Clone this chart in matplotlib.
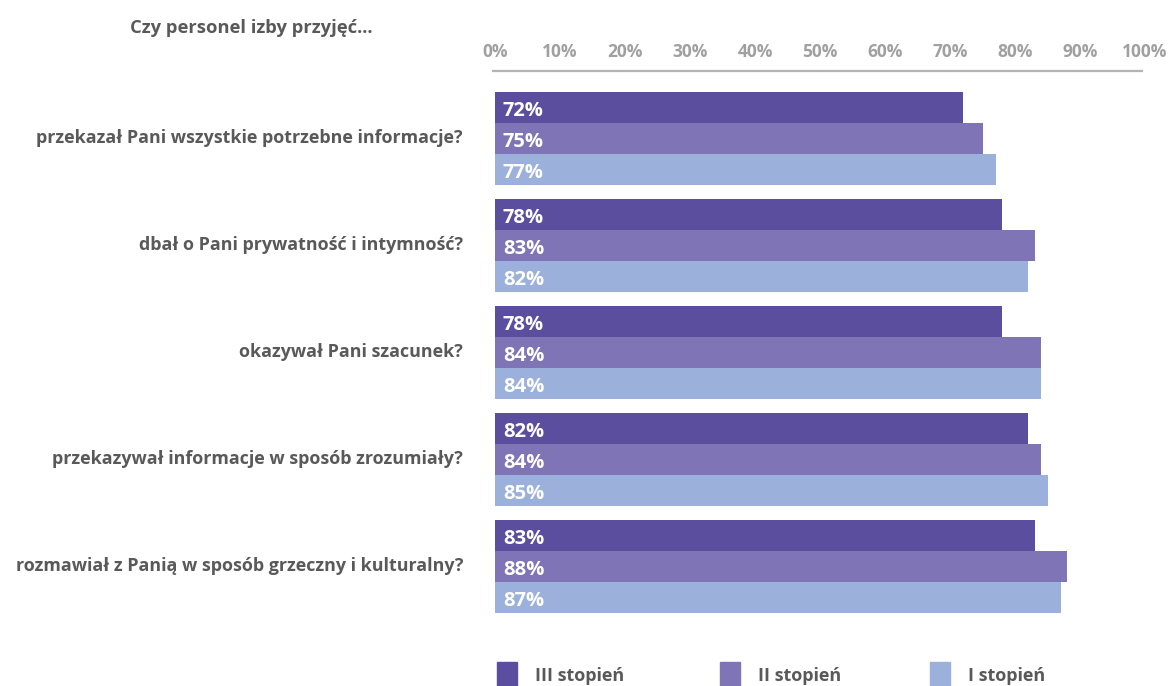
import numpy as np
import matplotlib.pyplot as plt
from matplotlib.patches import Rectangle

plt.rcParams['font.family'] = ['Open Sans', 'DejaVu Sans']

questions = [
    "przekazał Pani wszystkie potrzebne informacje?",
    "dbał o Pani prywatność i intymność?",
    "okazywał Pani szacunek?",
    "przekazywał informacje w sposób zrozumiały?",
    "rozmawiał z Panią w sposób grzeczny i kulturalny?",
]
series = ["III stopień", "II stopień", "I stopień"]
iii_stopien = [72, 78, 78, 82, 83]
ii_stopien = [75, 83, 84, 84, 88]
i_stopien = [77, 82, 84, 85, 87]
ticks = [0, 10, 20, 30, 40, 50, 60, 70, 80, 90, 100]

colors = ["#5b4e9e", "#7f74b6", "#9bb0da"]
text_gray = "#595959"

W, H = 1176, 686
fig = plt.figure(figsize=(W / 100, H / 100), dpi=100)
# axes spans x 495..1145 px, y 71..630 px
ax = fig.add_axes([495 / W, 1 - 630 / H, 650 / W, (630 - 71) / H])

y = np.arange(len(questions))
h = 31 / 107
for k, vals in enumerate([iii_stopien, ii_stopien, i_stopien]):
    pos = y + (k - 1) * h
    ax.barh(pos, vals, height=h, color=colors[k], edgecolor="none")
    for p, v in zip(pos, vals):
        ax.text(1.2, p + 0.035, f"{v}%", color="white", fontsize=14.5,
                fontweight="bold", va="center", ha="left")

ax.set_xlim(0, 100)
top = (71 - 138) / 107
bottom = (630 - 138) / 107
ax.set_ylim(bottom, top)

for s in ax.spines.values():
    s.set_visible(False)
ax.set_xticks([])
ax.set_yticks([])

# segmented top axis line
for t in ticks[:-1]:
    ax.plot([t - 0.45, t + 9.65], [top, top], color="#b4b4b4", lw=1.6,
            clip_on=False, solid_capstyle="butt")
for t in ticks:
    ax.text(t, top - 19 / 107, f"{t}%", color="#a0a0a0", fontsize=12.5,
            fontweight="bold", ha="center", va="center", clip_on=False)

for yi, q in zip(y, questions):
    fig.text(463 / W, 1 - (138 + 107 * yi) / H, q, color=text_gray,
             fontsize=12.9, fontweight="bold", ha="right", va="center")

fig.text(251 / W, 1 - 28 / H, "Czy personel izby przyjęć...", color=text_gray,
         fontsize=13.2, fontweight="bold", ha="center", va="center")

# legend
leg_x = [497, 720, 930]
for lx, name, c in zip(leg_x, series, colors):
    fig.patches.append(Rectangle((lx / W, 1 - 686 / H), 20 / W, 24 / H,
                                 transform=fig.transFigure, color=c,
                                 clip_on=False))
    fig.text((lx + 38) / W, 1 - 676 / H, name, color=text_gray, fontsize=13,
             fontweight="bold", ha="left", va="center")

fig.savefig("out.png", dpi=100)
